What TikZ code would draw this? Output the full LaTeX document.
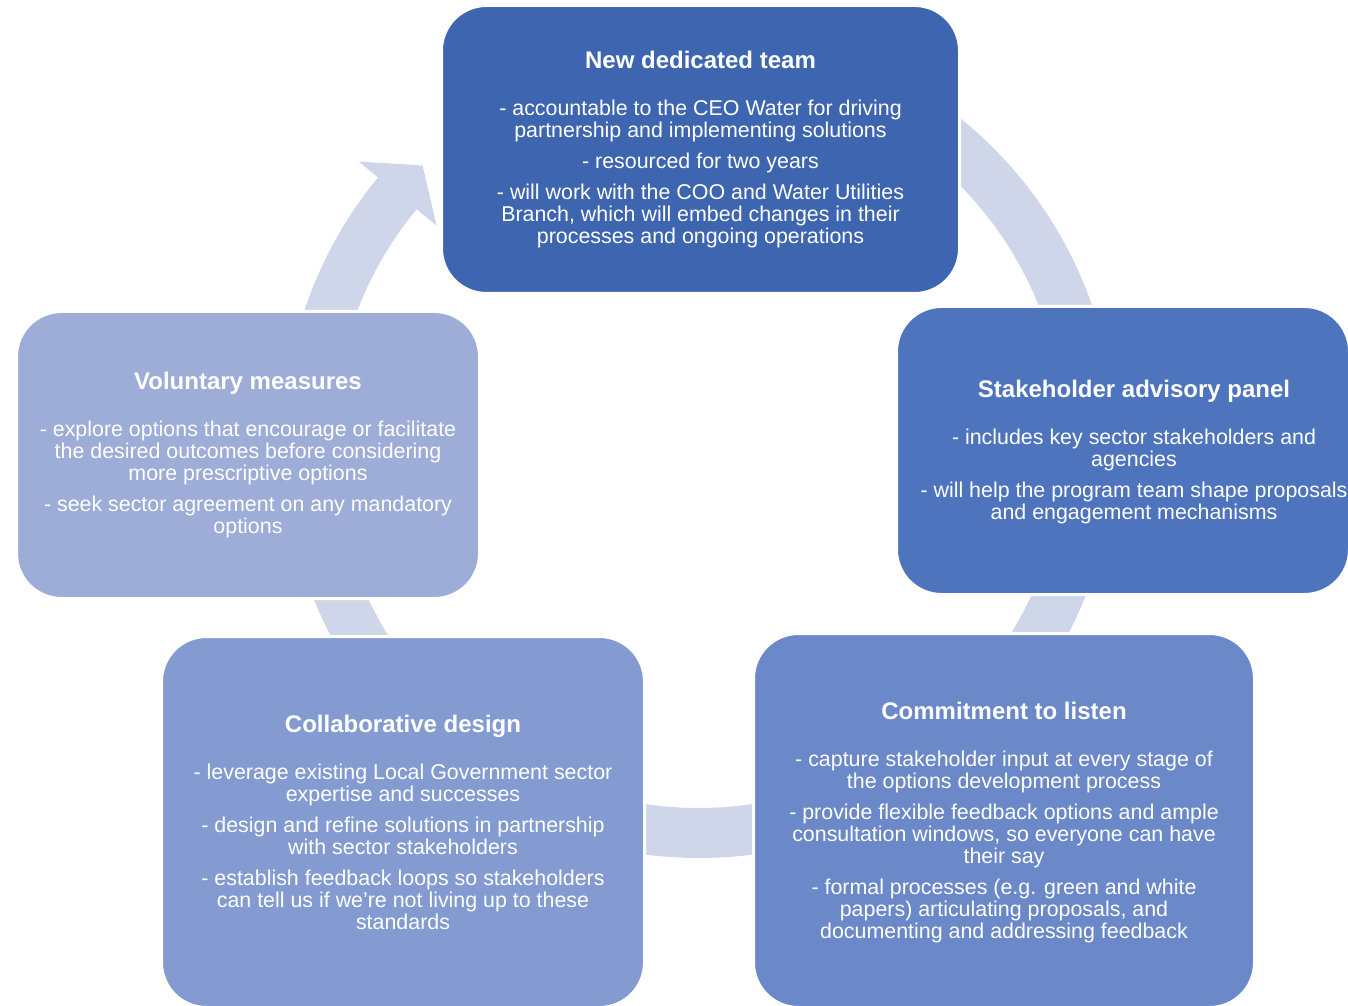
\documentclass[tikz,border=0pt]{standalone}
\usepackage{fontspec}
\setmainfont{Liberation Sans}
\usepackage{xcolor}
\usepackage{tikz}
\usetikzlibrary{positioning,calc}
\definecolor{teamblue}{HTML}{3E66B0}
\definecolor{panelblue}{HTML}{4E74BE}
\definecolor{listenblue}{HTML}{6B89C8}
\definecolor{designblue}{HTML}{849BD2}
\definecolor{voluntblue}{HTML}{9DADD8}
\definecolor{ringgrey}{HTML}{CFD6EA}
\newcommand{\boxtitle}[1]{{\fontsize{24}{26}\selectfont\bfseries #1}}
\tikzset{
  cyclebox/.style={draw=white, line width=3pt, rounded corners=45pt, text=white, align=center, inner sep=4pt},
  boxtext/.style={text=white, align=center, inner sep=0pt},
  ringarrow/.style={fill=ringgrey},
}

\begin{document}
\begin{tikzpicture}[x=1pt,y=1pt,font=\fontsize{21.4}{22}\selectfont]
  \useasboundingbox (0,0) rectangle (1348,1005);
  \clip (0,0) rectangle (1348,1005);
  \begin{scope}[shift={(699,563)}]
    \fill[ringarrow] (90:416) arc[start angle=90, end angle=-219.5, radius=416]
      -- (140.5:441) -- (135:391) -- (140.5:340) -- (140.5:366)
      arc[start angle=-219.5, end angle=90, radius=366] -- cycle;
  \end{scope}
  \node[cyclebox, fill=teamblue, minimum width=518pt, minimum height=288pt] (team) at (700.5,855.5)
    {\boxtitle{New dedicated team}\\[25pt]
     - accountable to the CEO Water for driving\\partnership and implementing solutions\\[9pt]
     - resourced for two years\\[9pt]
     - will work with the COO and Water Utilities\\Branch, which will embed changes in their\\processes and ongoing operations};
  \node[cyclebox, fill=panelblue, minimum width=453pt, minimum height=288pt] (panel) at (1123,554.5) {};
  \node[boxtext] (panel text) at ([xshift=11pt,yshift=-2pt]panel.center)
    {\boxtitle{Stakeholder advisory panel}\\[25pt]
     - includes key sector stakeholders and\\agencies\\[9pt]
     - will help the program team shape proposals\\and engagement mechanisms};
  \node[cyclebox, fill=listenblue, minimum width=501pt, minimum height=374pt] (listen) at (1004,184.5) {};
  \node[boxtext] (listen text) at ([yshift=-2.5pt]listen.center)
    {\boxtitle{Commitment to listen}\\[25pt]
     - capture stakeholder input at every stage of\\the options development process\\[9pt]
     - provide flexible feedback options and ample\\consultation windows, so everyone can have\\their say\\[9pt]
     - formal processes (e.g. green and white\\papers) articulating proposals, and\\documenting and addressing feedback};
  \node[cyclebox, fill=designblue, minimum width=483pt, minimum height=371pt] (design) at (403,183)
    {\boxtitle{Collaborative design}\\[25pt]
     - leverage existing Local Government sector\\expertise and successes\\[9pt]
     - design and refine solutions in partnership\\with sector stakeholders\\[9pt]
     - establish feedback loops so stakeholders\\can tell us if we're not living up to these\\standards};
  \node[cyclebox, fill=voluntblue, minimum width=463pt, minimum height=287pt] (voluntary) at (248,550)
    {\boxtitle{Voluntary measures}\\[25pt]
     - explore options that encourage or facilitate\\the desired outcomes before considering\\more prescriptive options\\[9pt]
     - seek sector agreement on any mandatory\\options};
\end{tikzpicture}
\end{document}
